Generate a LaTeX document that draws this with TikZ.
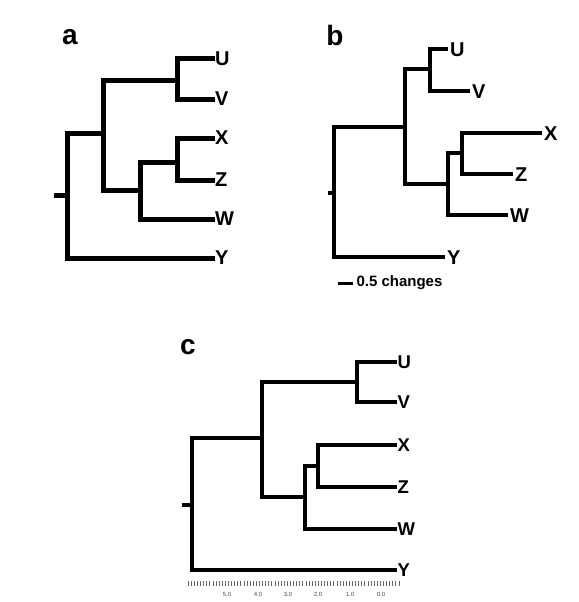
\documentclass[tikz,border=0pt]{standalone}
\usepackage{fontspec}
\setmainfont{Liberation Sans}
\usetikzlibrary{positioning}

\begin{document}
\begin{tikzpicture}[x=1pt,y=-1pt,line join=miter,
	panel/.style={inner sep=0pt,font=\bfseries\fontsize{28}{28}\selectfont},
	taxon/.style={anchor=west,inner sep=0pt,font=\bfseries\fontsize{20}{20}\selectfont},
	taxonb/.style={anchor=west,inner xsep=2pt,inner ysep=0pt,yshift=-1pt,font=\bfseries\fontsize{20}{20}\selectfont},
	taxonsm/.style={anchor=west,inner xsep=0.5pt,inner ysep=0pt,font=\bfseries\fontsize{18.5}{18.5}\selectfont},
	branch/.style={line width=5pt},
	branchsm/.style={line width=4pt},
	tick/.style={draw=black!60,line width=0.5pt},
	ticklabel/.style={inner sep=0pt,text=black!70,font=\fontsize{6}{6}\selectfont}]
	
	\useasboundingbox (0,0) rectangle (578,602);
	
	% tree a
	\node[panel] (la) at (70,37) {a};
	\coordinate (aS) at (54,195);
	\coordinate (aR) at (67,195);
	\coordinate (aI) at (103,133);
	\coordinate (aUV) at (177,80);
	\coordinate (aL) at (140,190);
	\coordinate (aXZ) at (177,162);
	\node[taxon] (aU) at (215,59) {U};
	\node[taxon] (aV) at (215,99) {V};
	\node[taxon] (aX) at (215,138) {X};
	\node[taxon] (aZ) at (215,180) {Z};
	\node[taxon] (aW) at (215,219) {W};
	\node[taxon] (aY) at (215,258) {Y};
	
	\draw[branch] (aS) -- (aR);
	\draw[branch] (aR) |- (aI);
	\draw[branch] (aR) |- (aY.west);
	\draw[branch] (aI) |- (aUV);
	\draw[branch] (aI) |- (aL);
	\draw[branch] (aUV) |- (aU.west);
	\draw[branch] (aUV) |- (aV.west);
	\draw[branch] (aL) |- (aXZ);
	\draw[branch] (aL) |- (aW.west);
	\draw[branch] (aXZ) |- (aX.west);
	\draw[branch] (aXZ) |- (aZ.west);
	
	% tree b
	\node[panel] (lb) at (335,35) {b};
	\coordinate (bS) at (328,193);
	\coordinate (bR) at (334,193);
	\coordinate (bI) at (405,127);
	\coordinate (bUV) at (430,69);
	\coordinate (bL) at (448,184);
	\coordinate (bXZ) at (462,153);
	\node[taxonb] (bU) at (448,49) {U};
	\node[taxonb] (bV) at (470,91) {V};
	\node[taxonb] (bX) at (542,133) {X};
	\node[taxonb] (bZ) at (513,174) {Z};
	\node[taxonb] (bW) at (508,215) {W};
	\node[taxonb] (bY) at (445,257) {Y};
	
	\draw[branchsm] (bS) -- (bR);
	\draw[branchsm] (bR) |- (bI);
	\draw[branchsm] (bR) |- ([yshift=1pt]bY.west);
	\draw[branchsm] (bI) |- (bUV);
	\draw[branchsm] (bI) |- (bL);
	\draw[branchsm] (bUV) |- ([yshift=1pt]bU.west);
	\draw[branchsm] (bUV) |- ([yshift=1pt]bV.west);
	\draw[branchsm] (bL) |- (bXZ);
	\draw[branchsm] (bL) |- ([yshift=1pt]bW.west);
	\draw[branchsm] (bXZ) |- ([yshift=1pt]bX.west);
	\draw[branchsm] (bXZ) |- ([yshift=1pt]bZ.west);
	
	\coordinate (sb) at (338,283);
	\draw[line width=3pt] (sb) -- ++(15,0)
	node[right=2pt,inner sep=0pt,font=\bfseries\fontsize{15}{15}\selectfont] (sbl)
	{0.5 changes};
	
	% tree c
	\node[panel] (lc) at (188,347) {c};
	\coordinate (cS) at (182,505);
	\coordinate (cR) at (192,505);
	\coordinate (cI) at (262,438);
	\coordinate (cUV) at (357,382);
	\coordinate (cL) at (305,497);
	\coordinate (cXZ) at (318,466);
	\node[taxonsm] (cU) at (397,362) {U};
	\node[taxonsm] (cV) at (397,402) {V};
	\node[taxonsm] (cX) at (397,445) {X};
	\node[taxonsm] (cZ) at (397,487) {Z};
	\node[taxonsm] (cW) at (397,529) {W};
	\node[taxonsm] (cY) at (397,570) {Y};
	
	\draw[branchsm] (cS) -- (cR);
	\draw[branchsm] (cR) |- (cI);
	\draw[branchsm] (cR) |- (cY.west);
	\draw[branchsm] (cI) |- (cUV);
	\draw[branchsm] (cI) |- (cL);
	\draw[branchsm] (cUV) |- (cU.west);
	\draw[branchsm] (cUV) |- (cV.west);
	\draw[branchsm] (cL) |- (cXZ);
	\draw[branchsm] (cL) |- (cW.west);
	\draw[branchsm] (cXZ) |- (cX.west);
	\draw[branchsm] (cXZ) |- (cZ.west);
	
	\foreach \i in {0,...,68}
	\draw[tick] ({188+\i*3.1},581) -- ++(0,5);
	\foreach \v/\x in {5.0/227,4.0/258,3.0/288,2.0/318,1.0/350,0.0/381}
	\node[ticklabel] at (\x,594) {\v};
	
\end{tikzpicture}
\end{document}
